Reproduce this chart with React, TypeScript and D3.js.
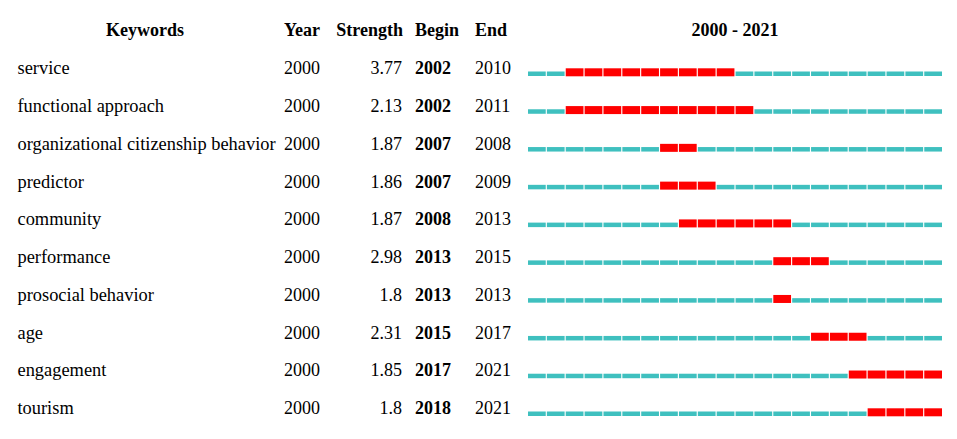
import React from "react";
import * as d3 from "d3";

const keywords = [
  "service",
  "functional approach",
  "organizational citizenship behavior",
  "predictor",
  "community",
  "performance",
  "prosocial behavior",
  "age",
  "engagement",
  "tourism",
];
const yearCol = [2000, 2000, 2000, 2000, 2000, 2000, 2000, 2000, 2000, 2000];
const strength = ["3.77", "2.13", "1.87", "1.86", "1.87", "2.98", "1.8", "2.31", "1.85", "1.8"];
const begin = [2002, 2002, 2007, 2007, 2008, 2013, 2013, 2015, 2017, 2018];
const end = [2010, 2011, 2008, 2009, 2013, 2015, 2013, 2017, 2021, 2021];
const headers = ["Keywords", "Year", "Strength", "Begin", "End"];
const yearStart = 2000;
const yearEnd = 2021;

const W = 957;
const H = 439;
const CYAN = "#3fc0bf";
const RED = "#ff0000";
const FONT = "'Liberation Serif', 'Times New Roman', serif";

export default function App() {
  const years = d3.range(yearStart, yearEnd + 1);
  const x = d3.scaleBand<number>().domain(years).range([528, 942]).paddingInner(0.06).paddingOuter(0);
  const y = d3.scalePoint<number>().domain(d3.range(keywords.length)).range([72.5, 412.5]);

  return (
    <svg width={W} height={H} style={{ position: "absolute", left: 0, top: 0, background: "#fff" }} fontFamily={FONT} fontSize={18}>
      <g fontWeight="bold">
        <text x={145} y={35.5} textAnchor="middle">{headers[0]}</text>
        <text x={284} y={35.5}>{headers[1]}</text>
        <text x={403} y={35.5} textAnchor="end">{headers[2]}</text>
        <text x={415} y={35.5}>{headers[3]}</text>
        <text x={475} y={35.5}>{headers[4]}</text>
        <text x={735} y={35.5} textAnchor="middle">{`${yearStart} - ${yearEnd}`}</text>
      </g>
      {keywords.map((k, i) => {
        const cy = y(i)!;
        const base = cy + 1.7;
        return (
          <g key={k}>
            <text x={17.5} y={base} fontSize={18.4}>{k}</text>
            <text x={284} y={base}>{yearCol[i]}</text>
            <text x={402} y={base} textAnchor="end">{strength[i]}</text>
            <text x={415} y={base} fontWeight="bold">{begin[i]}</text>
            <text x={475} y={base}>{end[i]}</text>
            {years.map((yr) => {
              const hot = yr >= begin[i] && yr <= end[i];
              return hot ? (
                <rect key={yr} x={x(yr)!} y={cy - 4.2} width={x.bandwidth()} height={8} fill={RED} />
              ) : (
                <rect key={yr} x={x(yr)!} y={cy - 1} width={x.bandwidth()} height={4.5} fill={CYAN} />
              );
            })}
          </g>
        );
      })}
    </svg>
  );
}
